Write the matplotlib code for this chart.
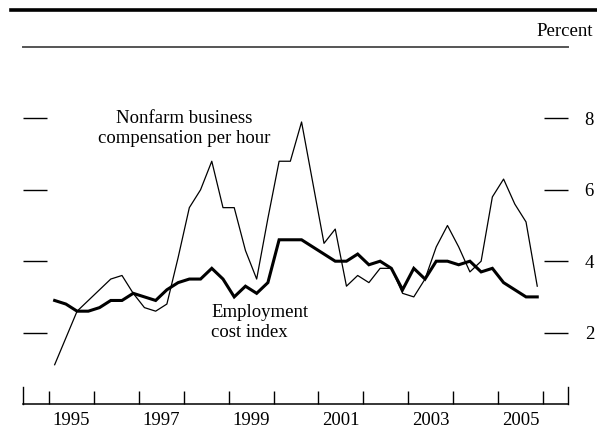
import matplotlib
matplotlib.use("Agg")
import matplotlib.pyplot as plt
from matplotlib.lines import Line2D
import numpy as np

plt.rcParams['font.family'] = ['Liberation Serif', 'DejaVu Serif']

# four-quarter percent changes, 1995:Q1 - 2005:Q4
start_year = 1995
eci = [2.9, 2.8, 2.6, 2.6, 2.7, 2.9, 2.9, 3.1, 3.0, 2.9, 3.2, 3.4,
       3.5, 3.5, 3.8, 3.5, 3.0, 3.3, 3.1, 3.4, 4.6, 4.6, 4.6, 4.4,
       4.2, 4.0, 4.0, 4.2, 3.9, 4.0, 3.8, 3.2, 3.8, 3.5, 4.0, 4.0,
       3.9, 4.0, 3.7, 3.8, 3.4, 3.2, 3.0, 3.0]
comp_per_hour = [1.1, 1.85, 2.6, 2.9, 3.2, 3.5, 3.6, 3.1, 2.7, 2.6, 2.8, 4.1,
                 5.5, 6.0, 6.8, 5.5, 5.5, 4.3, 3.5, 5.2, 6.8, 6.8, 7.9, 6.2,
                 4.5, 4.9, 3.3, 3.6, 3.4, 3.8, 3.8, 3.1, 3.0, 3.5, 4.4, 5.0,
                 4.4, 3.7, 4.0, 5.8, 6.3, 5.6, 5.1, 3.3]
year_labels = ['1995', '1997', '1999', '2001', '2003', '2005']
y_ticks = [2, 4, 6, 8]

quarters = start_year + 0.125 + 0.25 * np.arange(len(eci))

fig = plt.figure(figsize=(5.97, 4.30), dpi=100)
ax = fig.add_axes([23 / 597, 26 / 430, 545 / 597, 357 / 430])

ax.plot(quarters, comp_per_hour, color='black', lw=0.9)
ax.plot(quarters, eci, color='black', lw=2.2, solid_joinstyle='miter')

ax.set_xlim(1994.42, 2006.56)
ax.set_ylim(0, 10)

# y ticks inside on both sides, labels only on the right
ax.set_yticks(y_ticks)
ax.tick_params(axis='y', which='major', direction='in', length=17, width=1,
               left=True, right=True, labelleft=False, labelright=True,
               pad=12, labelsize=13.5)

# year boundaries get ticks, labels sit mid-year
ax.set_xticks(np.arange(1995, 2007))
ax.set_xticklabels([])
ax.tick_params(axis='x', which='major', direction='in', length=9.5, width=1)
ax.set_xticks([int(y) + 0.5 for y in year_labels], minor=True)
ax.set_xticklabels(year_labels, minor=True)
ax.tick_params(axis='x', which='minor', length=0, pad=5.5, labelsize=13.5)

for side in ['left', 'right']:
    ax.spines[side].set_bounds(0, 0.47)
    ax.spines[side].set_linewidth(1)
ax.spines['bottom'].set_linewidth(1.1)
ax.spines['top'].set_color('#555555')
ax.spines['top'].set_linewidth(1.4)

ax.text(1998.0, 7.71, 'Nonfarm business\ncompensation per hour',
        ha='center', va='center', fontsize=13.5, linespacing=1.2)
ax.text(1998.61, 2.29, 'Employment\ncost index', ha='left', va='center',
        fontsize=13.5, linespacing=1.2)

fig.add_artist(Line2D([11 / 597, 1.0], [1 - 10 / 430] * 2, color='black', lw=2.6))
fig.text(593 / 597, 1 - 32 / 430, 'Percent', ha='right', va='center', fontsize=13.5)

fig.savefig('out.png', dpi=100)
